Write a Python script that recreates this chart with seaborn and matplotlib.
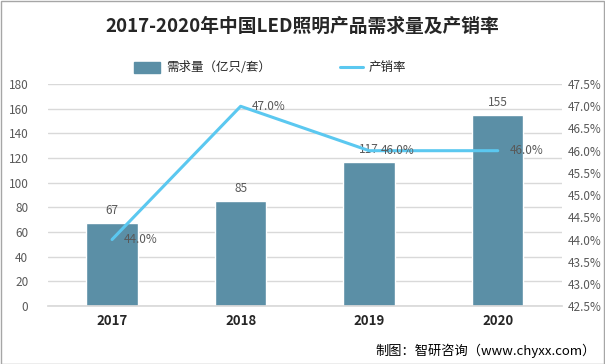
import pandas as pd
import matplotlib.pyplot as plt
import seaborn as sns

# data
years = ['2017', '2018', '2019', '2020']
demand = [67, 85, 117, 155]          # 亿只/套
rate = [44.0, 47.0, 46.0, 46.0]      # %

BAR_COLOR = '#5B8FA6'
LINE_COLOR = '#5BC8F0'
TXT = '#595959'

sns.set_theme(style='white')
plt.rcParams['font.family'] = ['Noto Sans CJK SC', 'DejaVu Sans']

df = pd.DataFrame({'year': years, 'demand': demand, 'rate': rate})

fig = plt.figure(figsize=(6.05, 3.64), dpi=100)
ax = fig.add_axes([0.079, 0.159, 0.85, 0.61])

sns.barplot(data=df, x='year', y='demand', color=BAR_COLOR, width=0.4,
            saturation=1, ax=ax, zorder=2)
ax.set_ylim(0, 180)
ax.set_yticks(range(0, 181, 20))
ax.yaxis.grid(True, color='#D9D9D9', lw=1, zorder=0)
ax.set_axisbelow(True)
ax.set_xlabel('')
ax.set_ylabel('')
ax.tick_params(axis='y', labelsize=8.5, colors=TXT, length=0, pad=14)
ax.tick_params(axis='x', labelsize=9.5, length=0, pad=6)
for lbl in ax.get_xticklabels():
    lbl.set_fontweight('bold')
    lbl.set_color('#262626')
for s in ax.spines.values():
    s.set_visible(False)
ax.spines['bottom'].set_visible(True)
ax.spines['bottom'].set_color('#D9D9D9')

for i, v in enumerate(demand):
    ax.text(i, v + 5, str(v), ha='center', va='bottom', fontsize=8.5, color=TXT, zorder=5)

ax2 = ax.twinx()
sns.lineplot(x=list(range(len(years))), y=rate, color=LINE_COLOR, lw=2.2, ax=ax2, zorder=3)
ax2.set_ylim(42.5, 47.5)
ax2.set_yticks([42.5 + 0.5 * k for k in range(11)])
ax2.set_yticklabels([f'{42.5 + 0.5 * k:.1f}%' for k in range(11)])
ax2.tick_params(axis='y', labelsize=8.5, colors=TXT, length=0, pad=4)
ax2.set_ylabel('')
for s in ax2.spines.values():
    s.set_visible(False)
for i, v in enumerate(rate):
    ax2.text(i + 0.09, v, f'{v:.1f}%', ha='left', va='center', fontsize=8.5, color=TXT, zorder=5)
ax.set_xlim(-0.5, 3.5)

# legend
fig.patches.append(plt.Rectangle((0.222, 0.80), 0.042, 0.03, transform=fig.transFigure,
                                 color=BAR_COLOR))
fig.text(0.274, 0.815, '需求量（亿只/套）', fontsize=9, color='#262626', va='center')
fig.lines.append(plt.Line2D([0.562, 0.6], [0.815, 0.815], transform=fig.transFigure,
                            color=LINE_COLOR, lw=2.2))
fig.text(0.61, 0.815, '产销率', fontsize=9, color='#262626', va='center')

fig.suptitle('2017-2020年中国LED照明产品需求量及产销率', x=0.5, y=0.955,
             fontsize=13.5, fontweight='bold', color='#262626')
fig.text(0.985, 0.035, '制图：智研咨询（www.chyxx.com）', ha='right', va='center',
         fontsize=9.5, color='black')

# frame
fig.patches.append(plt.Rectangle((0.001, 0.001), 0.997, 0.997, transform=fig.transFigure,
                                 fill=False, edgecolor='#A6A6A6', lw=1))

fig.savefig('out.png', dpi=100)
